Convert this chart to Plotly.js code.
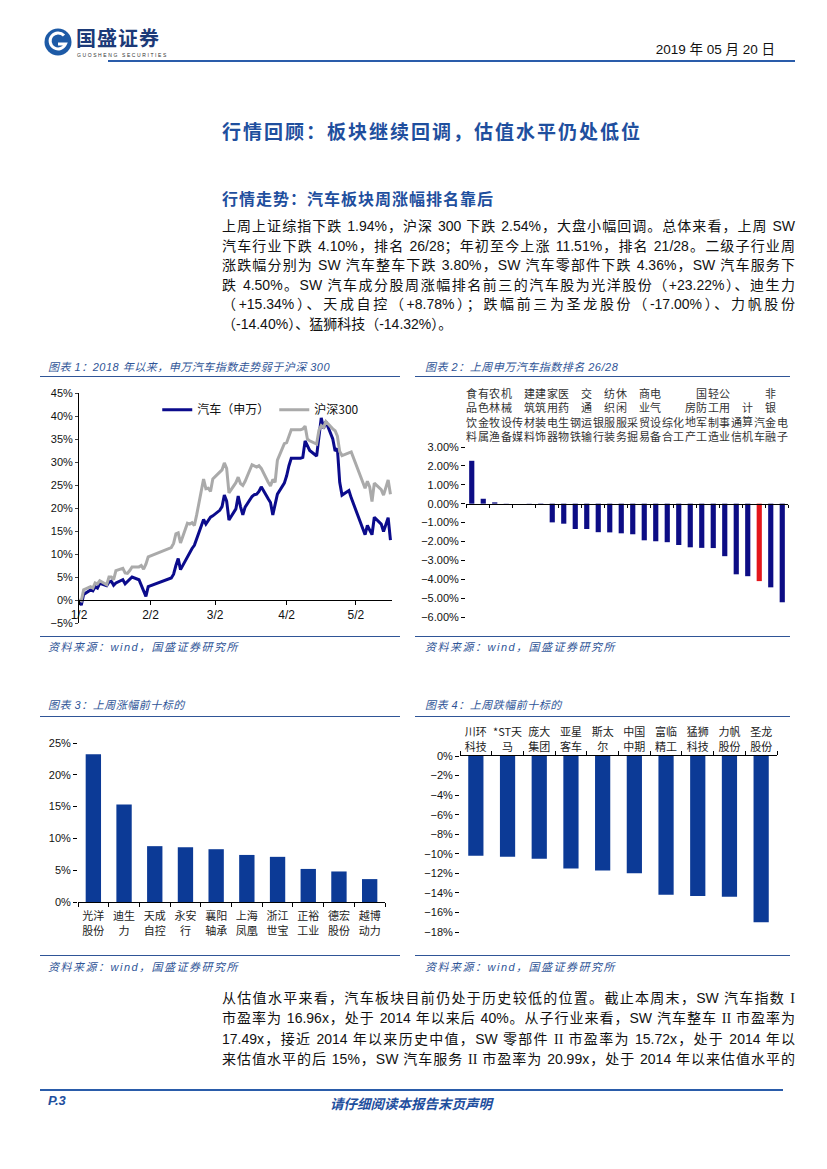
<!DOCTYPE html>
<html><head><meta charset="utf-8">
<script src="https://cdn.plot.ly/plotly-3.0.1.min.js"></script>
<style>
html,body{margin:0;padding:0;background:#fff;}
#page{position:relative;width:827px;height:1169px;overflow:hidden;font-family:"Liberation Sans","Noto Sans CJK SC",sans-serif;color:#111;}
.t{position:absolute;white-space:nowrap;}
.pl{position:absolute;left:222px;width:573px;font-size:14px;line-height:19px;text-align:justify;text-align-last:justify;}
.last{text-align-last:left;}
.cap{position:absolute;font-style:italic;color:#2f5597;font-size:11px;white-space:nowrap;letter-spacing:0.5px;}
.src{letter-spacing:1.5px;}
.hl{position:absolute;height:0;border-top:1.6px solid #2f5597;}
.chart{position:absolute;}
.rm{font-family:"Liberation Serif",serif;}
</style></head>
<body><div id="page">
<!-- header -->
<svg class="t" style="left:43px;top:27px" width="30" height="30" viewBox="0 0 30 30">
<circle cx="15" cy="15" r="13.5" fill="#1d5aa6"/>
<path d="M21 8.5 A8 8 0 1 0 22.5 17 L15 17" fill="none" stroke="#fff" stroke-width="3"/>
</svg>
<div class="t" style="left:76px;top:26px;font-size:20px;line-height:24px;font-weight:bold;color:#1c3a78;letter-spacing:1px;font-family:'Noto Sans CJK SC'">国盛证券</div>
<div class="t" style="left:77px;top:52px;font-size:5px;line-height:6px;color:#333;letter-spacing:1.6px">GUOSHENG SECURITIES</div>
<div class="t" style="right:52px;top:38px;font-size:13.5px;color:#111">2019 年 05 月 20 日</div>
<div class="hl" style="left:108px;top:60px;width:687px;border-top:2.2px solid #2a5caa"></div>

<div class="t" style="left:222px;top:117px;font-size:19px;font-weight:bold;color:#1f4f9e;font-family:'Noto Sans CJK SC';letter-spacing:2px">行情回顾：板块继续回调，估值水平仍处低位</div>
<div class="t" style="left:222px;top:186px;font-size:16px;font-weight:bold;color:#1f4f9e;font-family:'Noto Sans CJK SC';letter-spacing:1px">行情走势：汽车板块周涨幅排名靠后</div>

<div class="pl" style="top:217px">上周上证综指下跌 1.94%，沪深 300 下跌 2.54%，大盘小幅回调。总体来看，上周 SW</div>
<div class="pl" style="top:236.5px">汽车行业下跌 4.10%，排名 26/28；年初至今上涨 11.51%，排名 21/28。二级子行业周</div>
<div class="pl" style="top:256px">涨跌幅分别为 SW 汽车整车下跌 3.80%，SW 汽车零部件下跌 4.36%，SW 汽车服务下</div>
<div class="pl" style="top:275.5px">跌 4.50%。SW 汽车成分股周涨幅排名前三的汽车股为光洋股份（+23.22%）、迪生力</div>
<div class="pl" style="top:295px">（+15.34%）、天成自控（+8.78%）；跌幅前三为圣龙股份（-17.00%）、力帆股份</div>
<div class="pl last" style="top:314.5px">（-14.40%）、猛狮科技（-14.32%）。</div>

<!-- chart captions -->
<div class="cap" style="left:48px;top:358px">图表 1：2018 年以来，申万汽车指数走势弱于沪深 300</div>
<div class="hl" style="left:40px;top:376px;width:360px"></div>
<div class="cap" style="left:425px;top:358px">图表 2：上周申万汽车指数排名 26/28</div>
<div class="hl" style="left:415px;top:376px;width:375px"></div>
<div class="hl" style="left:40px;top:636px;width:360px"></div>
<div class="cap src" style="left:48px;top:638px">资料来源：wind，国盛证券研究所</div>
<div class="hl" style="left:415px;top:636px;width:375px"></div>
<div class="cap src" style="left:425px;top:638px">资料来源：wind，国盛证券研究所</div>

<div class="cap" style="left:48px;top:696px">图表 3：上周涨幅前十标的</div>
<div class="hl" style="left:40px;top:716px;width:360px"></div>
<div class="cap" style="left:425px;top:696px">图表 4：上周跌幅前十标的</div>
<div class="hl" style="left:415px;top:716px;width:375px"></div>
<div class="hl" style="left:40px;top:955px;width:360px"></div>
<div class="cap src" style="left:48px;top:958px">资料来源：wind，国盛证券研究所</div>
<div class="hl" style="left:415px;top:955px;width:375px"></div>
<div class="cap src" style="left:425px;top:958px">资料来源：wind，国盛证券研究所</div>

<div id="c1" class="chart" style="left:30px;top:380px;width:370px;height:260px"></div>
<div id="c2" class="chart" style="left:412px;top:378px;width:385px;height:250px"></div>
<div id="c3" class="chart" style="left:30px;top:725px;width:370px;height:225px"></div>
<div id="c4" class="chart" style="left:415px;top:705px;width:380px;height:240px"></div>

<div class="pl" style="top:988.5px">从估值水平来看，汽车板块目前仍处于历史较低的位置。截止本周末，SW 汽车指数 <span class="rm">I</span></div>
<div class="pl" style="top:1009px">市盈率为 16.96x，处于 2014 年以来后 40%。从子行业来看，SW 汽车整车 <span class="rm">II</span> 市盈率为</div>
<div class="pl" style="top:1029.5px">17.49x，接近 2014 年以来历史中值，SW 零部件 <span class="rm">II</span> 市盈率为 15.72x，处于 2014 年以</div>
<div class="pl" style="top:1050px">来估值水平的后 15%，SW 汽车服务 <span class="rm">II</span> 市盈率为 20.99x，处于 2014 年以来估值水平的</div>

<div class="hl" style="left:40px;top:1089px;width:743px;border-top:2px solid #2a5caa"></div>
<div class="t" style="left:48px;top:1093px;font-size:13px;font-weight:bold;font-style:italic;color:#1f4f9e">P.3</div>
<div class="t" style="left:330px;top:1093px;font-size:13.5px;font-weight:bold;font-style:italic;color:#1f4f9e;font-family:'Noto Sans CJK SC'">请仔细阅读本报告末页声明</div>
</div>
<script>
// ---- Chart 1 data: cumulative change since 2019-01-02 (%)
const dates = ['2019-01-02','2019-01-03','2019-01-04','2019-01-07','2019-01-08','2019-01-09','2019-01-10','2019-01-11','2019-01-14','2019-01-15','2019-01-16','2019-01-17','2019-01-18','2019-01-21','2019-01-22','2019-01-23','2019-01-24','2019-01-25','2019-01-28','2019-01-29','2019-01-30','2019-01-31','2019-02-01',
'2019-02-11','2019-02-12','2019-02-13','2019-02-14','2019-02-15','2019-02-18','2019-02-19','2019-02-20','2019-02-21','2019-02-22','2019-02-25','2019-02-26','2019-02-27','2019-02-28',
'2019-03-01','2019-03-04','2019-03-05','2019-03-06','2019-03-07','2019-03-08','2019-03-11','2019-03-12','2019-03-13','2019-03-14','2019-03-15','2019-03-18','2019-03-19','2019-03-20','2019-03-21','2019-03-22','2019-03-25','2019-03-26','2019-03-27','2019-03-28','2019-03-29',
'2019-04-01','2019-04-02','2019-04-03','2019-04-04','2019-04-08','2019-04-09','2019-04-10','2019-04-11','2019-04-12','2019-04-15','2019-04-16','2019-04-17','2019-04-18','2019-04-19','2019-04-22','2019-04-23','2019-04-24','2019-04-25','2019-04-26','2019-04-29','2019-04-30',
'2019-05-06','2019-05-07','2019-05-08','2019-05-09','2019-05-10','2019-05-13','2019-05-14','2019-05-15','2019-05-16','2019-05-17'];
const autoSW = [0.0,-1.1,1.2,2.2,2.0,2.9,2.6,3.6,3.1,3.9,4.1,3.2,3.7,4.4,3.5,4.0,4.6,5.0,4.4,3.0,2.0,0.8,2.9,
4.8,5.6,7.5,9.0,6.6,9.5,10.5,11.2,11.9,13.4,17.5,16.5,17.3,18.0,
18.3,19.5,20.3,22.8,21.5,17.4,19.8,22.6,20.3,18.5,20.2,22.5,22.9,23.0,23.6,24.6,22.0,21.2,18.5,20.8,23.0,
25.4,27.0,29.2,30.8,30.8,31.0,34.6,33.4,32.5,31.3,35.5,39.6,37.3,38.8,35.0,32.4,32.9,25.6,22.8,23.8,22.2,
14.2,16.2,15.0,14.2,18.0,16.5,14.9,16.3,17.9,13.0];
const hs300 = [0.0,-0.2,2.2,2.9,2.6,3.7,3.5,4.2,3.3,5.0,5.0,4.4,6.4,6.9,5.9,5.8,6.4,7.2,7.2,7.5,6.7,7.8,9.4,
11.4,12.3,14.4,14.6,12.4,16.7,16.5,16.8,16.2,18.5,26.3,24.2,24.3,23.6,
26.3,27.8,28.3,29.8,28.6,23.3,25.5,26.7,25.3,24.9,25.8,29.4,29.1,28.9,29.2,28.6,25.6,24.8,26.2,25.6,30.4,
34.0,34.2,35.6,37.0,37.0,37.2,37.8,35.0,34.6,33.9,36.9,37.9,37.5,38.8,37.2,36.8,35.6,32.3,31.4,32.0,32.2,
24.3,25.8,24.6,21.4,25.4,24.0,22.8,24.6,26.1,23.0];
const seriesNames = ['汽车（申万）','沪深300'];
const monthTickVals = ['2019-01-02','2019-02-02','2019-03-02','2019-04-02','2019-05-02'];
const monthTickText = ['1/2','2/2','3/2','4/2','5/2'];

// ---- Chart 2 data: SW level-1 industries weekly change (%)
const industries = ['食品饮料','有色金属','农林牧渔','机械设备','传媒','建筑材料','建筑装饰','家用电器','医药生物','钢铁','交通运输','银行','纺织服装','休闲服务','采掘','商业贸易','电气设备','综合','化工','房地产','国防军工','轻工制造','公用事业','通信','计算机','汽车','非银金融','电子'];
const industryChg = [2.27,0.26,0.07,0.01,0.00,-0.01,-0.02,-0.99,-1.06,-1.34,-1.34,-1.51,-1.52,-1.57,-1.62,-1.94,-1.99,-2.04,-2.19,-2.31,-2.34,-2.35,-2.78,-3.74,-3.84,-4.10,-4.43,-5.22];
const highlightName = '汽车';

// ---- Chart 3 data: top 10 gainers (%)
const gainers = ['光洋<br>股份','迪生<br>力','天成<br>自控','永安<br>行','襄阳<br>轴承','上海<br>凤凰','浙江<br>世宝','正裕<br>工业','德宏<br>股份','越博<br>动力'];
const gainerChg = [23.22,15.34,8.78,8.6,8.3,7.4,7.1,5.2,4.8,3.6];

// ---- Chart 4 data: top 10 losers (%)
const losers = ['川环<br>科技','*ST天<br>马','庞大<br>集团','亚星<br>客车','斯太<br>尔','中国<br>中期','富临<br>精工','猛狮<br>科技','力帆<br>股份','圣龙<br>股份'];
const loserChg = [-10.2,-10.3,-10.5,-11.5,-11.7,-12.0,-14.2,-14.32,-14.40,-17.00];

const FONT = 'Liberation Sans, Noto Sans CJK SC, sans-serif';
const CJK = 'Noto Sans CJK SC, Liberation Sans, sans-serif';
const cfg = {staticPlot:true, displayModeBar:false};
const NAVY = '#0b0b8c';

// Chart 1
(function(){
  const yr=[-5,45];
  Plotly.newPlot('c1',[
    {x:dates,y:autoSW,name:seriesNames[0],type:'scatter',mode:'lines',line:{color:NAVY,width:3}},
    {x:dates,y:hs300,name:seriesNames[1],type:'scatter',mode:'lines',line:{color:'#aaaaaa',width:3}}
  ],{
    width:370,height:260,margin:{l:49,r:8,t:13,b:17},
    paper_bgcolor:'rgba(0,0,0,0)',plot_bgcolor:'rgba(0,0,0,0)',
    font:{family:FONT,size:11,color:'#111'},
    xaxis:{type:'date',range:['2019-01-02','2019-05-17 16:00'],tickvals:monthTickVals,ticktext:monthTickText,
      anchor:'free',position:(0-yr[0])/(yr[1]-yr[0]),showline:true,linecolor:'#000',linewidth:1,
      ticks:'outside',ticklen:4,tickcolor:'#000',showgrid:false,zeroline:false,tickfont:{size:12},ticklabelstandoff:0},
    yaxis:{range:yr,dtick:5,ticksuffix:'%',showline:true,linecolor:'#000',ticks:'outside',ticklen:3,
      showgrid:false,zeroline:false,tickfont:{size:11}},
    showlegend:true,
    legend:{orientation:'h',x:0.25,y:0.99,xanchor:'left',yanchor:'top',bgcolor:'rgba(0,0,0,0)',
      font:{family:CJK,size:12},itemwidth:30,tracegroupgap:0}
  },cfg);
})();

// Chart 2
(function(){
  const yr=[-6,3];
  const colors = industries.map(n => n===highlightName ? '#e3161b' : '#0d0d85');
  const ann = industries.map(n => ({x:n,y:1,xref:'x',yref:'paper',yanchor:'bottom',xanchor:'center',
     showarrow:false,text:n.split('').join('<br>'),font:{family:CJK,size:11,color:'#333'},yshift:1}));
  Plotly.newPlot('c2',[
    {x:industries,y:industryChg,type:'bar',marker:{color:colors},width:0.45}
  ],{
    width:385,height:250,margin:{l:54,r:9,t:69,b:11},
    paper_bgcolor:'rgba(0,0,0,0)',plot_bgcolor:'rgba(0,0,0,0)',
    font:{family:FONT,size:11,color:'#111'},showlegend:false,
    xaxis:{type:'category',range:[-0.5,27.5],anchor:'free',position:(0-yr[0])/(yr[1]-yr[0]),
      showline:true,linecolor:'#000',showticklabels:false,ticks:'outside',tickson:'boundaries',ticklen:3,tickcolor:'#000',showgrid:false,zeroline:false},
    yaxis:{range:yr,dtick:1,tickformat:'.2f',ticksuffix:'%',ticks:'outside',ticklen:4,tickcolor:'#000',
      showline:false,showgrid:false,zeroline:false,tickfont:{size:11}},
    annotations:ann
  },cfg);
})();

// Chart 3
Plotly.newPlot('c3',[
  {x:gainers,y:gainerChg,type:'bar',marker:{color:'#0c3a96'},width:0.5}
],{
  width:370,height:225,margin:{l:48,r:15,t:18,b:48},
  paper_bgcolor:'rgba(0,0,0,0)',plot_bgcolor:'rgba(0,0,0,0)',
  font:{family:FONT,size:11,color:'#111'},showlegend:false,
  xaxis:{type:'category',showline:true,linecolor:'#000',ticks:'outside',tickson:'boundaries',ticklen:4,tickcolor:'#000',
    tickfont:{family:CJK,size:11,color:'#222'},showgrid:false,zeroline:false,tickangle:0,ticklabelstandoff:4},
  yaxis:{range:[0,25],dtick:5,ticksuffix:'%',ticks:'outside',ticklen:4,tickcolor:'#000',showline:false,showgrid:false,zeroline:false}
},cfg);

// Chart 4
Plotly.newPlot('c4',[
  {x:losers,y:loserChg,type:'bar',marker:{color:'#0c3a96'},width:0.48}
],{
  width:380,height:240,margin:{l:45,r:18,t:51,b:13},
  paper_bgcolor:'rgba(0,0,0,0)',plot_bgcolor:'rgba(0,0,0,0)',
  font:{family:FONT,size:11,color:'#111'},showlegend:false,
  xaxis:{type:'category',side:'top',showline:true,linecolor:'#000',ticks:'outside',tickson:'boundaries',ticklen:4,tickcolor:'#000',
    tickfont:{family:CJK,size:11,color:'#222'},showgrid:false,zeroline:false,tickangle:0},
  yaxis:{range:[-18,0],dtick:2,ticksuffix:'%',ticks:'outside',ticklen:4,tickcolor:'#000',showline:false,showgrid:false,zeroline:false}
},cfg);
</script>
</body></html>
